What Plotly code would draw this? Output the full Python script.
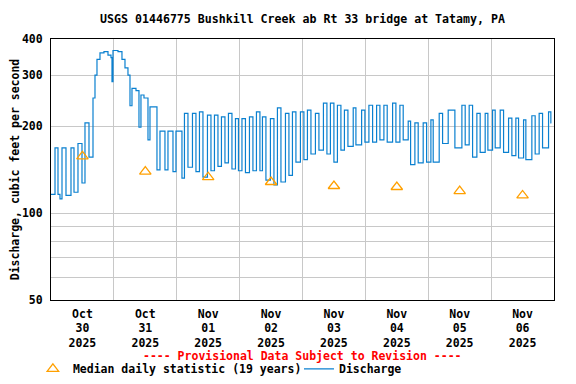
import pandas as pd
import numpy as np
import plotly.graph_objects as go

# ---- data ----
# Discharge as step plateaus: start hour (after 2025-10-30 00:00) and cfs
step_hours = [0.0, 1.53, 2.67, 3.43, 4.20, 5.72, 7.63, 8.78, 10.30, 11.83, 12.97, 14.50,
              16.03, 16.79, 17.55, 18.70, 20.22, 21.75, 22.90, 23.28, 23.66, 25.57, 27.09,
              28.24, 29.38, 30.15, 30.91, 32.44, 33.58, 34.34, 35.49, 37.02, 37.78, 40.45,
              41.60, 43.50, 44.65, 46.56, 47.70, 49.99, 50.94, 52.28, 54.00, 55.33, 56.67,
              58.00, 59.72, 61.06, 62.39, 63.73, 65.06, 66.40, 67.73, 69.07, 70.41, 71.55,
              72.89, 74.22, 75.75, 77.08, 78.42, 79.75, 80.71, 82.04, 83.76, 85.10, 86.43,
              87.77, 89.49, 90.82, 92.16, 93.49, 95.21, 96.54, 97.88, 99.22, 100.93, 102.27,
              103.99, 105.32, 106.66, 107.99, 109.33, 110.66, 112.00, 113.34, 115.36, 116.39,
              118.57, 119.82, 121.35, 122.76, 124.29, 125.55, 127.07, 128.33, 130.39, 131.65,
              133.18, 134.44, 136.35, 137.26, 138.90, 140.16, 142.07, 143.37, 145.01, 145.89,
              148.18, 149.47, 151.61, 154.17, 156.84, 158.10, 159.62, 160.92, 162.56, 163.82,
              165.73, 166.76, 168.55, 169.55, 171.46, 172.75, 174.66, 175.92, 177.44, 178.47,
              180.38, 181.26, 183.55, 184.81, 186.33, 187.63, 189.92, 190.80, 191.0]
step_cfs = [116, 168, 116, 112, 168, 115, 168, 118, 174, 127, 205, 156,
            250, 300, 340, 358, 362, 352, 345, 285, 365, 362, 340,
            318, 300, 235, 270, 265, 198, 256, 250, 179, 233, 141,
            192, 141, 192, 139, 192, 132, 221, 144, 221, 139, 224,
            133, 218, 140, 218, 145, 215, 149, 221, 142, 212, 140,
            212, 138, 215, 140, 224, 140, 215, 130, 212, 125, 231,
            128, 221, 135, 224, 150, 224, 153, 227, 160, 221, 165,
            240, 160, 240, 150, 236, 165, 227, 170, 231, 172,
            227, 176, 236, 176, 236, 179, 236, 176, 240, 176,
            236, 179, 208, 147, 205, 149, 205, 150, 210, 150,
            221, 174, 227, 168, 236, 172, 236, 156, 221, 162,
            221, 165, 227, 168, 227, 162, 213, 158, 213, 155,
            210, 153, 217, 160, 221, 168, 224, 205, 205]

median_days = ["2025-10-30 12:00", "2025-10-31 12:00", "2025-11-01 12:00", "2025-11-02 12:00",
               "2025-11-03 12:00", "2025-11-04 12:00", "2025-11-05 12:00", "2025-11-06 12:00"]
median_cfs = [157, 139, 133, 128, 124, 123, 119, 115]

grid_days = ["2025-10-30", "2025-10-31", "2025-11-01", "2025-11-02", "2025-11-03",
             "2025-11-04", "2025-11-05", "2025-11-06", "2025-11-07"]
tick_days = median_days
tick_text = ["Oct<br>30<br>2025", "Oct<br>31<br>2025", "Nov<br>01<br>2025", "Nov<br>02<br>2025",
             "Nov<br>03<br>2025", "Nov<br>04<br>2025", "Nov<br>05<br>2025", "Nov<br>06<br>2025"]

y_tickvals = [50, 60, 70, 80, 90, 100, 200, 300, 400]
y_ticktext = ["50", "", "", "", "", "100", "200", "300", "400"]

# ---- figure ----
base = pd.Timestamp("2025-10-30 00:00")
times = base + pd.to_timedelta(step_hours, unit="h")
xr = [grid_days[0], grid_days[-1]]

FONT = "DejaVu Sans Mono"
def f(size, color="black"):
    return dict(family=FONT, size=size, color=color, weight="bold")

fig = go.Figure()
fig.add_trace(go.Scatter(
    x=median_days, y=median_cfs, mode="markers", xaxis="x2", yaxis="y",
    name="Median daily statistic (19 years)",
    marker=dict(symbol="triangle-up-open", size=10, color="#ffa000", line=dict(width=1.3, color="#ffa000")),
    legend="legend"))
fig.add_trace(go.Scatter(
    x=times, y=step_cfs, mode="lines", line=dict(color="#0a80d0", width=1.2, shape="hv"),
    name="Discharge", legend="legend2"))

fig.update_layout(
    width=560, height=368,
    margin=dict(l=43, r=14, t=31, b=76, autoexpand=False),
    paper_bgcolor="white", plot_bgcolor="white",
    title=dict(text="USGS 01446775 Bushkill Creek ab Rt 33 bridge at Tatamy, PA",
               x=0.5, xref="paper", y=1 - 11 / 368, yref="container",
               xanchor="center", yanchor="middle", font=f(11.6)),
    xaxis=dict(type="date", range=xr, tickvals=grid_days, showticklabels=False,
               showgrid=True, gridcolor="#c8c8c8", gridwidth=1,
               showline=True, linecolor="black", linewidth=1, mirror=True,
               ticks="", zeroline=False, automargin=False),
    xaxis2=dict(type="date", range=xr, overlaying="x", anchor="y", side="bottom",
                tickvals=tick_days, ticktext=tick_text, showgrid=False,
                showline=False, ticks="", tickfont=f(11.5), ticklabelstandoff=5,
                zeroline=False, automargin=False),
    yaxis=dict(type="log", range=[np.log10(50), np.log10(400)],
               tickvals=y_tickvals, ticktext=y_ticktext,
               showgrid=True, gridcolor="#c8c8c8", gridwidth=1,
               showline=True, linecolor="black", linewidth=1, mirror=True,
               ticks="", tickfont=f(11.5), ticklabelstandoff=5, automargin=False,
               title=dict(text="Discharge, cubic feet per second", font=f(11.5), standoff=2)),
    showlegend=True,
    legend=dict(x=-0.036, y=-0.264, xanchor="left", yanchor="middle", orientation="h",
                font=f(11.5), bgcolor="rgba(0,0,0,0)", borderwidth=0),
    legend2=dict(x=0.493, y=-0.264, xanchor="left", yanchor="middle", orientation="h",
                 font=f(11.5), bgcolor="rgba(0,0,0,0)", borderwidth=0),
    annotations=[dict(text="---- Provisional Data Subject to Revision ----",
                      x=0.5, xref="paper", y=-0.2146, yref="paper",
                      xanchor="center", yanchor="middle", showarrow=False,
                      font=f(11.5, "#ff0000"))],
)

fig.write_html("out.html")
